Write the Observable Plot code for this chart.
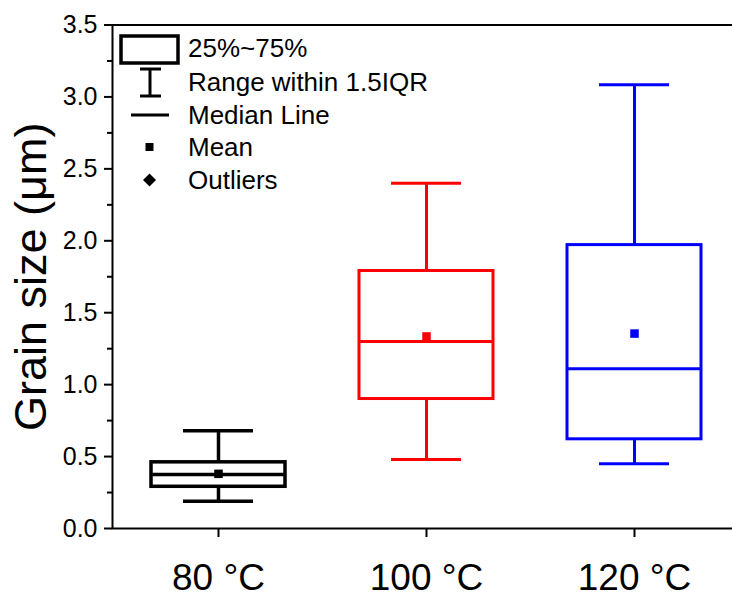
<!DOCTYPE html>
<html>
<head>
<meta charset="utf-8">
<script src="https://cdn.jsdelivr.net/npm/d3@7"></script>
<script src="https://cdn.jsdelivr.net/npm/@observablehq/plot@0.6"></script>
<style>
  html, body { margin: 0; padding: 0; background: #fff; overflow: hidden; }
  #chart { font-family: "Liberation Sans", Arial, sans-serif; color: #000; }
</style>
</head>
<body>
<div id="chart"></div>
<script>
// ---- data ----
const categories  = ["80 °C", "100 °C", "120 °C"];
const whiskerMin  = [0.19, 0.48, 0.45];
const q1          = [0.29, 0.90, 0.62];
const median      = [0.375, 1.30, 1.11];
const mean        = [0.38, 1.335, 1.355];
const q3          = [0.46, 1.79, 1.97];
const whiskerMax  = [0.68, 2.40, 3.085];
const yMajorTicks = [0, 0.5, 1.0, 1.5, 2.0, 2.5, 3.0, 3.5];
const yMinorTicks = [0.25, 0.75, 1.25, 1.75, 2.25, 2.75, 3.25];
const legendLabels = ["25%~75%", "Range within 1.5IQR", "Median Line", "Mean", "Outliers"];
const yLabel = "Grain size (\u03bcm)";
const seriesColors = ["#000000", "#ff0000", "#0000ff"];

const rows = categories.map((c, i) => ({
  cat: c, min: whiskerMin[i], q1: q1[i], median: median[i],
  mean: mean[i], q3: q3[i], max: whiskerMax[i]
}));

const sw = d => d.cat === categories[0] ? 3.5 : 3;
const boxInset = 37, capInset = 69;

const chart = Plot.plot({
  width: 732,
  height: 599,
  marginLeft: 112,
  marginRight: -10,
  marginTop: 24.5,
  marginBottom: 71,
  style: { fontFamily: '"Liberation Sans", Arial, sans-serif', background: "#fff", color: "#000", overflow: "visible" },
  x: { type: "band", domain: categories, range: [114, 738], padding: 0 },
  y: { domain: [0, 3.5] },
  color: { domain: categories, range: seriesColors },
  marks: [
    Plot.frame({ stroke: "#000", strokeWidth: 2 }),
    // whiskers
    Plot.ruleX(rows, { x: "cat", y1: "q3", y2: "max", stroke: "cat", strokeWidth: sw }),
    Plot.ruleX(rows, { x: "cat", y1: "min", y2: "q1", stroke: "cat", strokeWidth: sw }),
    Plot.tickY(rows, { x: "cat", y: "max", stroke: "cat", strokeWidth: sw, insetLeft: capInset, insetRight: capInset }),
    Plot.tickY(rows, { x: "cat", y: "min", stroke: "cat", strokeWidth: sw, insetLeft: capInset, insetRight: capInset }),
    // boxes
    Plot.barY(rows, { x: "cat", y1: "q1", y2: "q3", fill: "none", stroke: "cat", strokeWidth: sw, insetLeft: boxInset, insetRight: boxInset }),
    Plot.tickY(rows, { x: "cat", y: "median", stroke: "cat", strokeWidth: sw, insetLeft: boxInset, insetRight: boxInset }),
    Plot.dot(rows, { x: "cat", y: "mean", symbol: "square", r: 4.8, fill: "cat", stroke: "none" }),
    // axes
    Plot.axisY({ ticks: yMajorTicks, tickSize: 8, tickPadding: 7, fontSize: 25, tickFormat: d3.format(".1f"), label: null, strokeWidth: 2 }),
    Plot.axisY({ ticks: yMinorTicks, tickSize: 5, tickFormat: () => "", label: null, strokeWidth: 2 }),
    Plot.axisX({ tickSize: 9, tickPadding: 26, fontSize: 37, label: null, strokeWidth: 2 }),
    Plot.text([yLabel], { frameAnchor: "left", dx: -81, rotate: -90, fontSize: 45, textAnchor: "middle", lineAnchor: "middle", text: d => d, fill: "#000" })
  ]
});

document.getElementById("chart").appendChild(chart);

// ---- legend (drawn in pixel space inside the plot) ----
const svg = d3.select(chart);
const lg = svg.append("g")
  .attr("font-family", '"Liberation Sans", Arial, sans-serif')
  .attr("font-size", 26)
  .attr("text-anchor", "start")
  .attr("fill", "#000");
const rowY = [48, 82, 115, 147, 180];
const textX = 188;
legendLabels.forEach((t, i) => {
  lg.append("text").attr("x", textX).attr("y", rowY[i]).attr("dy", "0.36em").attr("text-anchor", "start").text(t);
});
// box icon
lg.append("rect").attr("x", 121).attr("y", 36).attr("width", 57).attr("height", 27)
  .attr("fill", "none").attr("stroke", "#000").attr("stroke-width", 3.5);
// whisker icon
const wg = lg.append("g").attr("stroke", "#000").attr("stroke-width", 3);
wg.append("line").attr("x1", 150).attr("x2", 150).attr("y1", 69).attr("y2", 96);
wg.append("line").attr("x1", 140).attr("x2", 161).attr("y1", 69).attr("y2", 69);
wg.append("line").attr("x1", 140).attr("x2", 161).attr("y1", 96).attr("y2", 96);
// median icon
lg.append("line").attr("x1", 131).attr("x2", 169).attr("y1", 115).attr("y2", 115)
  .attr("stroke", "#000").attr("stroke-width", 3);
// mean icon
lg.append("rect").attr("x", 145.5).attr("y", 143).attr("width", 8).attr("height", 8).attr("fill", "#000");
// outlier icon
lg.append("path").attr("d", "M149.5,173.5 L156,180 L149.5,186.5 L143,180 Z").attr("fill", "#000");
</script>
</body>
</html>
